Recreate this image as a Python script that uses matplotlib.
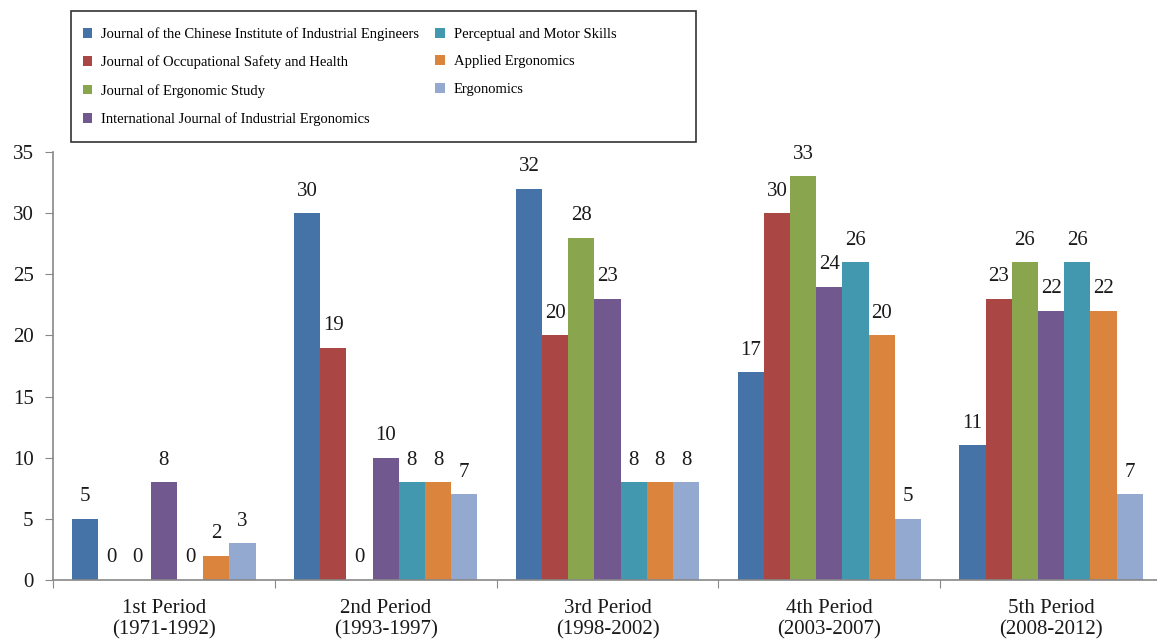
import numpy as np
import matplotlib
matplotlib.use("Agg")
import matplotlib.pyplot as plt
from matplotlib.patches import Rectangle

plt.rcParams["font.family"] = ["Liberation Serif", "DejaVu Serif"]

periods = ["1st Period\n(1971-1992)", "2nd Period\n(1993-1997)", "3rd Period\n(1998-2002)",
           "4th Period\n(2003-2007)", "5th Period\n(2008-2012)"]

journals = [
    "Journal of the Chinese Institute of Industrial Engineers",
    "Journal of Occupational Safety and Health",
    "Journal of Ergonomic Study",
    "International Journal of Industrial Ergonomics",
    "Perceptual and Motor Skills",
    "Applied Ergonomics",
    "Ergonomics",
]

jciie = [5, 30, 32, 17, 11]
josh = [0, 19, 20, 30, 23]
jes = [0, 0, 28, 33, 26]
ijie = [8, 10, 23, 24, 22]
pms = [0, 8, 8, 26, 26]
ae = [2, 8, 8, 20, 22]
ergo = [3, 7, 8, 5, 7]
series = [jciie, josh, jes, ijie, pms, ae, ergo]

colors = ["#4572A7", "#AA4643", "#89A54E", "#71588F", "#4198AF", "#DB843D", "#93A9CF"]

W, H = 1157, 641
fig = plt.figure(figsize=(W / 100, H / 100), dpi=100)
ax = fig.add_axes([53 / W, 61 / H, (1162 - 53) / W, (580 - 152) / H])
ax.patch.set_alpha(0)

n = len(series)
bw = 0.118
x = np.arange(len(periods))
for i, (vals, c, name) in enumerate(zip(series, colors, journals)):
    pos = x + (i - (n - 1) / 2) * bw
    ax.bar(pos, vals, width=bw, color=c, label=name, linewidth=0)
    for xp, v in zip(pos, vals):
        ax.annotate(str(v), (xp, v), xytext=(0, 9), textcoords="offset points",
                    ha="center", va="bottom", fontsize=15, color="#1a1a1a")

ax.set_xlim(-0.5, len(periods) - 0.5)
ax.set_ylim(0, 35)
ax.set_yticks(range(0, 36, 5))
ax.set_xticks(np.arange(len(periods) + 1) - 0.5)
ax.set_xticklabels([])
ax.set_xticks(x, minor=True)
ax.set_xticklabels(periods, minor=True, fontsize=15, color="#1a1a1a", linespacing=1.1)
ax.tick_params(axis="x", which="minor", length=0, pad=14)
ax.tick_params(axis="x", which="major", length=6, color="#888888", direction="out")
ax.tick_params(axis="y", length=6, color="#888888", labelsize=15, labelcolor="#1a1a1a", pad=8)

for s in ["top", "right"]:
    ax.spines[s].set_visible(False)
for s in ["left", "bottom"]:
    ax.spines[s].set_color("#888888")
    ax.spines[s].set_linewidth(1.2)

# legend frame box drawn separately so it can be wider than its contents
fig.patches.append(Rectangle((71 / W, 1 - 142 / H), (696 - 71) / W, (142 - 11) / H,
                             transform=fig.transFigure, fill=False,
                             edgecolor="#333333", linewidth=1.2))

fig.legend(loc="upper left", bbox_to_anchor=(83 / W, 1 - 27 / H), ncol=2,
           fontsize=10.5, frameon=False, borderaxespad=0, borderpad=0,
           handlelength=0.65, handleheight=0.65, handletextpad=0.6,
           labelspacing=1.0, columnspacing=1.1)

fig.savefig("out.png", dpi=100)
